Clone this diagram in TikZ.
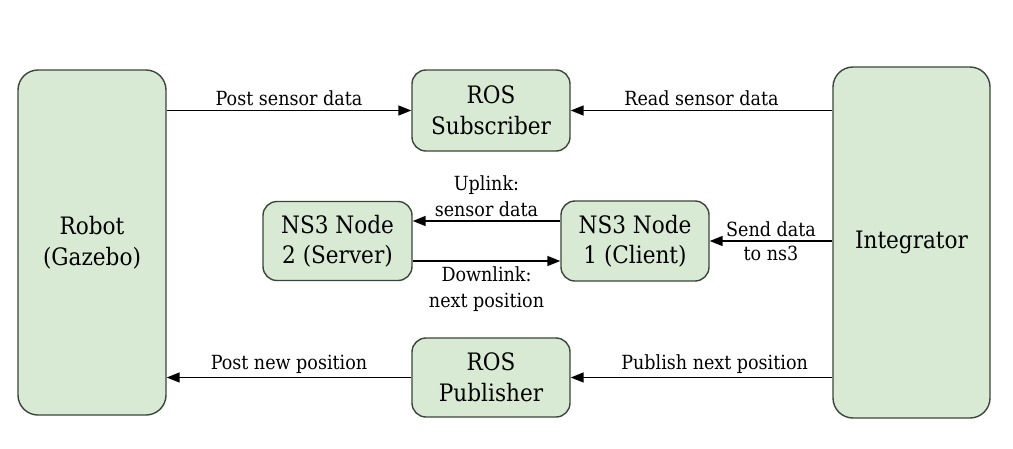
\documentclass[tikz,border=0pt]{standalone}
\usepackage{fontspec}
\setmainfont{DejaVu Serif Condensed}
\usetikzlibrary{arrows.meta}
\definecolor{boxfill}{HTML}{D8EAD3}
\definecolor{boxline}{HTML}{3A463A}
\tikzset{
  box/.style={draw=boxline, fill=boxfill, line width=1.4pt, rounded corners=14pt,
    align=center, font=\fontsize{24}{30.5}\selectfont, inner sep=0pt, text=black},
  bigbox/.style={box, rounded corners=20pt},
  conn/.style={line width=1.6pt, draw=black, -{Triangle[length=13pt,width=10pt]}},
  lbl/.style={font=\fontsize{19.5}{26}\selectfont, align=center, inner sep=2pt}
}
\begin{document}
\begin{tikzpicture}[x=1pt,y=-1pt]
\useasboundingbox (0,0) rectangle (1013,448);
\fill[white] (0,0) rectangle (1013,448);
\node[bigbox, minimum width=148pt, minimum height=345pt] (robot) at (92,242.5) {Robot\\(Gazebo)};
\node[bigbox, minimum width=157pt, minimum height=351pt] (int) at (911.5,242.5) {Integrator};
\node[box, minimum width=158pt, minimum height=81pt] (sub) at (491,110.5) {ROS\\Subscriber};
\node[box, minimum width=158pt, minimum height=79pt] (pub) at (491,377.5) {ROS\\Publisher};
\node[box, minimum width=149pt, minimum height=79pt] (n2) at (337.5,241) {NS3 Node\\2 (Server)};
\node[box, minimum width=148pt, minimum height=80pt] (n1) at (635,241) {NS3 Node\\1 (Client)};

\draw[conn] (robot.east |- sub.west) -- node[lbl, above=1.5pt] {Post sensor data} (sub.west);
\draw[conn] (int.west |- sub.east) -- node[lbl, above=1.5pt] {Read sensor data} (sub.east);
\draw[conn] ([yshift=20pt]n1.west) -- node[lbl, above=1pt] {Uplink:\\sensor data} ([yshift=20pt]n2.east);
\draw[conn] ([yshift=-20pt]n2.east) -- node[lbl, below=2.5pt] {Downlink:\\next position} ([yshift=-20pt]n1.west);
\draw[conn] (int.west |- n1.east) -- node[lbl, font=\fontsize{19.5}{24}\selectfont] {Send data\\to ns3} (n1.east);
\draw[conn] (int.west |- pub.east) -- node[lbl, above=1.5pt, pos=0.45] {Publish next position} (pub.east);
\draw[conn] (pub.west) -- node[lbl, above=1.5pt] {Post new position} (robot.east |- pub.west);
\end{tikzpicture}
\end{document}
